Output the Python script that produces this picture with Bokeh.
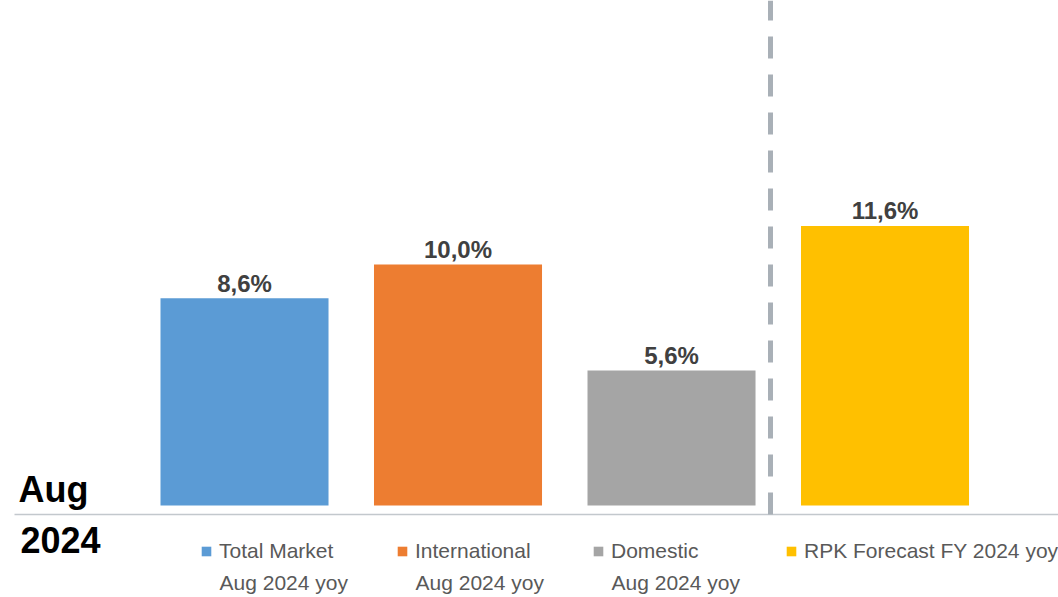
from bokeh.plotting import figure
from bokeh.models import (ColumnDataSource, Range1d, Span, Label, Legend, LegendItem)
from bokeh.embed import file_html
from bokeh.resources import INLINE
from bokeh.core.properties import value

# ---- data ----
series_names = ["Total Market", "International", "Domestic", "RPK Forecast FY 2024 yoy"]
series_sub = ["Aug 2024 yoy", "Aug 2024 yoy", "Aug 2024 yoy", ""]
growth = [8.6, 10.0, 5.6, 11.6]
colors = ["#5B9BD5", "#ED7D31", "#A5A5A5", "#FFC000"]
period_label = ["Aug", "2024"]

labels = [f"{v:.1f}".replace(".", ",") + "%" for v in growth]
xs = list(range(len(series_names)))

src = ColumnDataSource(dict(x=xs, v=growth, c=colors, lab=labels))

W, H = 1058, 597
x_start = -1.1429
x_end = x_start + W / 213.5
y_end = 505 / 24.1
y_start = y_end - H / 24.1
axis_y = -0.373
divider_x = 2.4637

p = figure(width=W, height=H, output_backend="svg", toolbar_location=None,
           x_range=Range1d(x_start, x_end), y_range=Range1d(y_start, y_end),
           min_border_left=0, min_border_right=0, min_border_top=0,
           min_border_bottom=0)
p.outline_line_color = None
p.grid.visible = False
p.axis.visible = False
p.background_fill_color = "white"
p.border_fill_color = "white"

# category baseline
p.segment(x0=[x_start + 14 / 213.5], y0=[axis_y], x1=[x_end], y1=[axis_y],
          line_color="#C3C8CD", line_width=1.6)

bars = p.vbar(x="x", top="v", bottom=0, width=0.787, fill_color="c",
              line_color=None, source=src)

p.text(x="x", y="v", text="lab", source=src, text_align="center",
       text_baseline="alphabetic", y_offset=-15,
       text_font=value("Liberation Sans"), text_font_style="bold",
       text_font_size="24px", text_color="#404040")

# divider between actuals and forecast
p.segment(x0=[divider_x], y0=[axis_y], x1=[divider_x], y1=[y_end],
          line_color="#A9B0B7", line_width=5, line_dash="22 16")

for i, t in enumerate(period_label):
    p.add_layout(Label(x=x_start, y=0, x_offset=18 + 2 * i, y_offset=16 - 50 * i,
                       text=t, text_font="Liberation Sans", text_font_style="bold",
                       text_font_size="36px", text_color="#000000",
                       text_baseline="alphabetic"))

# legend: one entry per series, second line as plain text below
leg_x = [200, 396, 592, 785]
for i in range(len(series_names)):
    lg = Legend(items=[LegendItem(label=series_names[i], renderers=[bars], index=i)],
                orientation="horizontal", location=(leg_x[i], 34),
                glyph_width=12, glyph_height=12, label_standoff=7,
                padding=0, margin=0, border_line_color=None,
                background_fill_alpha=0,
                label_text_font="Liberation Sans",
                label_text_font_size="21px", label_text_color="#595959")
    p.add_layout(lg, "center")
    if series_sub[i]:
        p.add_layout(Label(x=leg_x[i] + 19, y=15, x_units="screen", y_units="screen",
                           text=series_sub[i], text_font="Liberation Sans",
                           text_font_size="21px", text_color="#595959",
                           text_baseline="alphabetic"))

open("out.html", "w").write(file_html(p, INLINE))
